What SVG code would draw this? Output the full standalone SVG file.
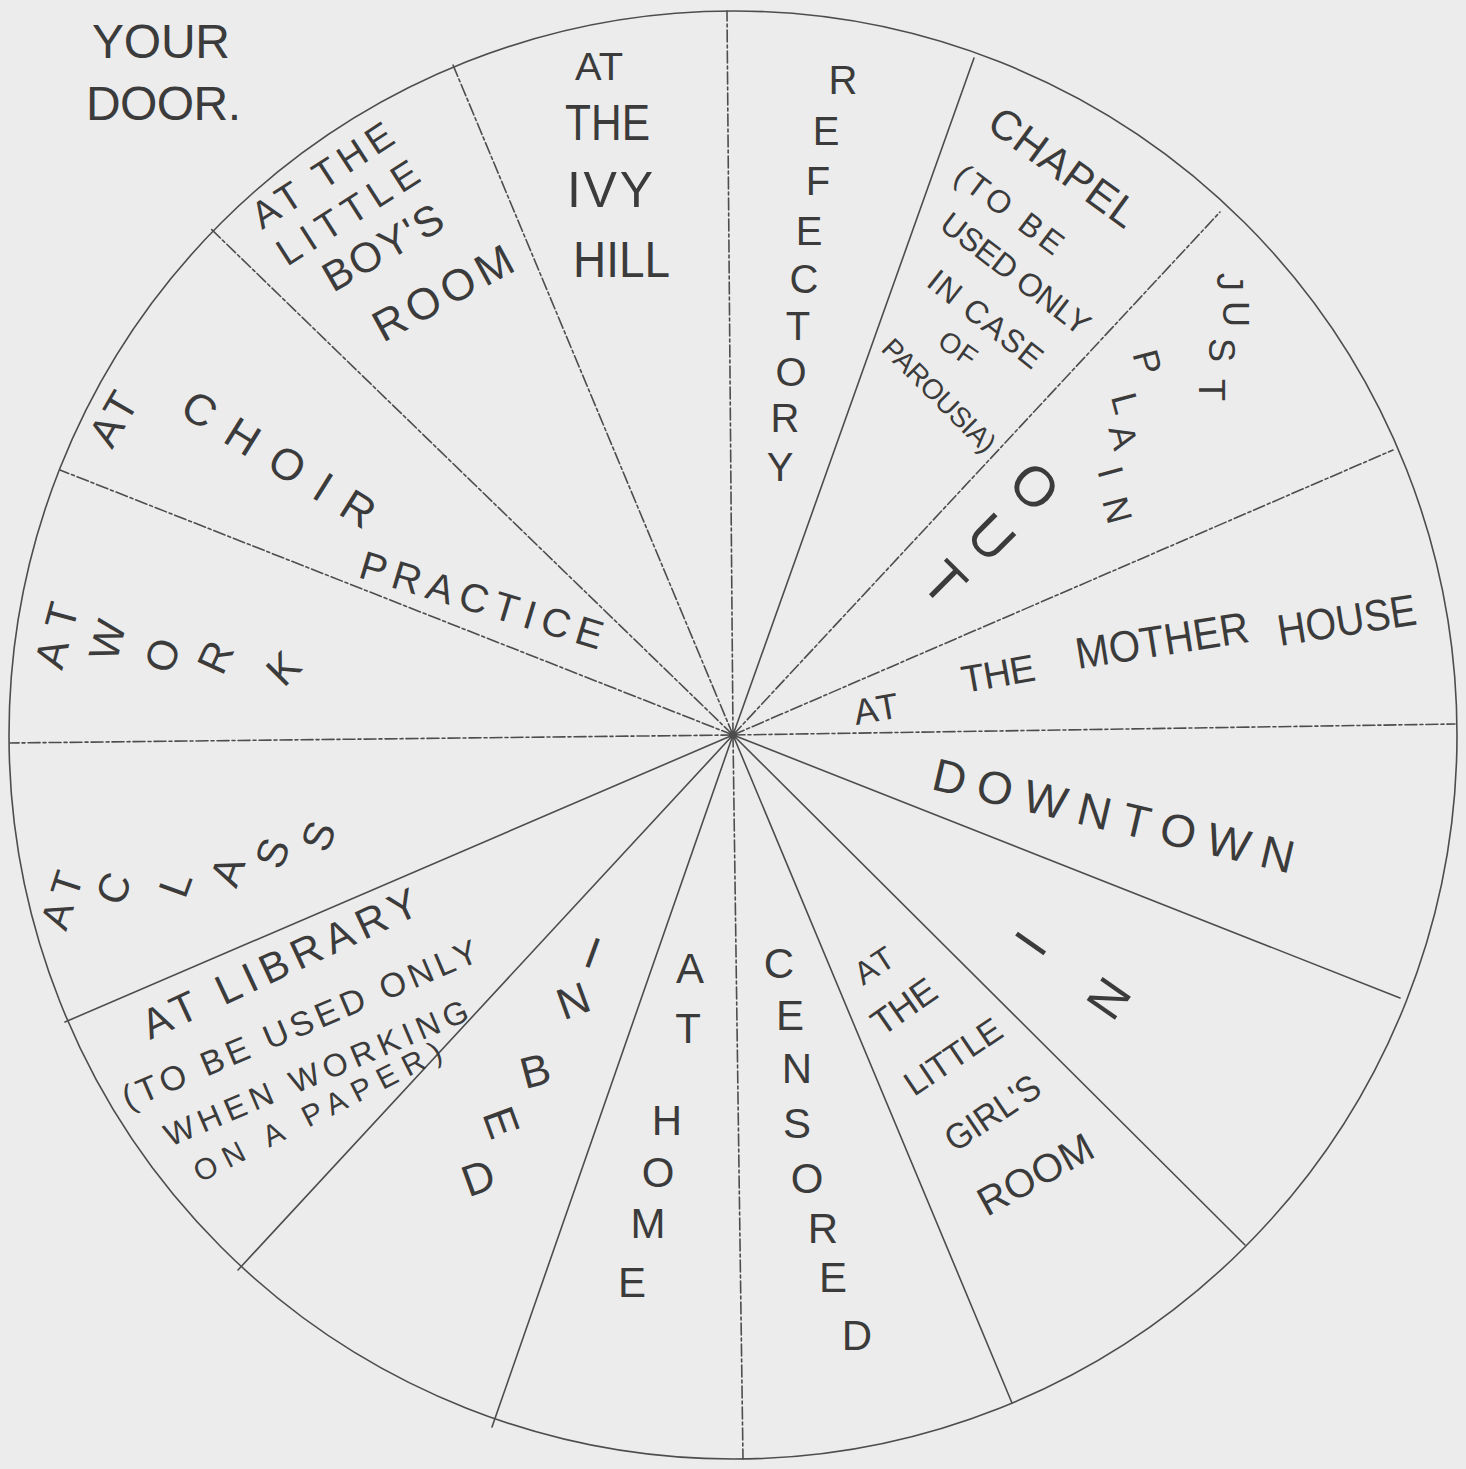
<svg xmlns="http://www.w3.org/2000/svg" width="1466" height="1469" viewBox="0 0 1466 1469">
<defs>
<style>
.t{font-family:"Liberation Sans",Arial,sans-serif;fill:#3b3b3b;}
.c{text-anchor:middle;}
.sp{stroke:#4d4d4d;stroke-width:1.6;fill:none;stroke-linecap:round;}
.d{stroke-dasharray:12 3 3 3;}
</style>
</defs>
<rect x="0" y="0" width="1466" height="1469" fill="#ececec"/>

<g id="connectors">
<circle class="sp" cx="733" cy="735" r="724"/>
<line class="sp d" x1="733" y1="735" x2="727" y2="11"/>
<line class="sp" x1="733" y1="735" x2="974" y2="58"/>
<line class="sp d" x1="733" y1="735" x2="1220" y2="212"/>
<line class="sp d" x1="733" y1="735" x2="1393" y2="450"/>
<line class="sp d" x1="733" y1="735" x2="1455" y2="724"/>
<line class="sp" x1="733" y1="735" x2="1400" y2="998"/>
<line class="sp" x1="733" y1="735" x2="1245" y2="1245"/>
<line class="sp" x1="733" y1="735" x2="1012" y2="1403"/>
<line class="sp d" x1="733" y1="735" x2="743" y2="1459"/>
<line class="sp" x1="733" y1="735" x2="492" y2="1427"/>
<line class="sp" x1="733" y1="735" x2="238" y2="1270"/>
<line class="sp" x1="733" y1="735" x2="65" y2="1022"/>
<line class="sp d" x1="733" y1="735" x2="10" y2="743"/>
<line class="sp d" x1="733" y1="735" x2="60" y2="470"/>
<line class="sp d" x1="733" y1="735" x2="210" y2="228"/>
<line class="sp d" x1="733" y1="735" x2="453" y2="65"/>
<circle cx="733" cy="735" r="4" fill="#4d4d4d"/>
</g>

<g id="n-your-door">
<text class="t" x="92" y="58" font-size="48" textLength="138" lengthAdjust="spacing">YOUR</text>
<text class="t" x="86" y="120" font-size="48" textLength="155" lengthAdjust="spacing">DOOR.</text>
</g>

<g id="n-boys-room">
<text class="t" font-size="38" transform="translate(262,230) rotate(-33)" textLength="161" lengthAdjust="spacing">AT THE</text>
<text class="t" font-size="38" transform="translate(287,267) rotate(-32.6)" textLength="161" lengthAdjust="spacing">LITTLE</text>
<text class="t" font-size="42" transform="translate(333,293) rotate(-30)" textLength="132" lengthAdjust="spacing">BOY'S</text>
<text class="t" font-size="44" transform="translate(383,343) rotate(-28.6)" textLength="153" lengthAdjust="spacing">ROOM</text>
</g>

<g id="n-ivy-hill">
<text class="t" x="575" y="80" font-size="38" textLength="48" lengthAdjust="spacingAndGlyphs">AT</text>
<text class="t" x="565" y="140" font-size="50" textLength="85" lengthAdjust="spacingAndGlyphs">THE</text>
<text class="t" x="567" y="207" font-size="50" textLength="86" lengthAdjust="spacing">IVY</text>
<text class="t" x="573" y="277" font-size="50" textLength="97" lengthAdjust="spacingAndGlyphs">HILL</text>
</g>

<g id="n-refectory" class="t c" font-size="40">
<text x="843" y="94">R</text>
<text x="826" y="145">E</text>
<text x="818" y="195">F</text>
<text x="809" y="245">E</text>
<text x="804" y="293">C</text>
<text x="798" y="340">T</text>
<text x="791" y="386">O</text>
<text x="785" y="432">R</text>
<text x="780" y="481">Y</text>
</g>

<g id="n-chapel">
<text class="t" font-size="42" transform="translate(985,128) rotate(36)" textLength="173" lengthAdjust="spacing">CHAPEL</text>
<text class="t" font-size="32" transform="translate(952,180) rotate(37)" textLength="127" lengthAdjust="spacing">(TO BE</text>
<text class="t" font-size="32" transform="translate(938,228) rotate(37.5)" textLength="179" lengthAdjust="spacing">USED ONLY</text>
<text class="t" font-size="32" transform="translate(925,285) rotate(38.5)" textLength="137" lengthAdjust="spacing">IN CASE</text>
<text class="t" font-size="28" transform="translate(936,345) rotate(35)" textLength="40" lengthAdjust="spacing">OF</text>
<text class="t" font-size="28" transform="translate(880,350) rotate(45)" textLength="148" lengthAdjust="spacing">PAROUSIA)</text>
</g>

<g id="n-just-plain-out" class="t c">
<g font-size="36">
<text transform="translate(1230,282) rotate(90)" y="13">J</text>
<text transform="translate(1236,314) rotate(90)" y="13">U</text>
<text transform="translate(1222,350) rotate(90)" y="13">S</text>
<text transform="translate(1212,390) rotate(90)" y="13">T</text>
<text transform="translate(1148,362) rotate(75)" y="13">P</text>
<text transform="translate(1126,403) rotate(75)" y="13">L</text>
<text transform="translate(1124,437) rotate(75)" y="13">A</text>
<text transform="translate(1111,472) rotate(75)" y="13">I</text>
<text transform="translate(1118,510) rotate(75)" y="13">N</text>
</g>
<g font-size="56">
<text transform="translate(1035,486) rotate(45)" y="20">O</text>
<text transform="translate(992,537) rotate(45)" y="20">U</text>
<text transform="translate(945,582) rotate(45)" y="20">T</text>
</g>
</g>

<g id="n-mother-house">
<text class="t" font-size="36" transform="translate(856,725) rotate(-10)" textLength="45" lengthAdjust="spacing">AT</text>
<text class="t" font-size="38" transform="translate(964,693) rotate(-10)" textLength="74" lengthAdjust="spacing">THE</text>
<text class="t" font-size="44" transform="translate(1078,669) rotate(-9)" textLength="175" lengthAdjust="spacingAndGlyphs">MOTHER</text>
<text class="t" font-size="44" transform="translate(1280,646) rotate(-9)" textLength="140" lengthAdjust="spacingAndGlyphs">HOUSE</text>
</g>

<g id="n-downtown">
<text class="t" font-size="46" transform="translate(930,789) rotate(13.2)" textLength="370" lengthAdjust="spacing">DOWNTOWN</text>
</g>

<g id="n-in" class="t c" font-size="50">
<text transform="translate(1030,943) rotate(-55)" y="18">I</text>
<text transform="translate(1108,998) rotate(-55)" y="18">N</text>
</g>

<g id="n-girls-room">
<text class="t" font-size="32" transform="translate(863,986) rotate(-33)" textLength="41" lengthAdjust="spacing">AT</text>
<text class="t" font-size="36" transform="translate(882,1037) rotate(-35)" textLength="71" lengthAdjust="spacing">THE</text>
<text class="t" font-size="34" transform="translate(914,1097) rotate(-34)" textLength="110" lengthAdjust="spacing">LITTLE</text>
<text class="t" font-size="36" transform="translate(955,1153) rotate(-34)" textLength="107" lengthAdjust="spacingAndGlyphs">GIRL'S</text>
<text class="t" font-size="40" transform="translate(987,1217) rotate(-29)" textLength="126" lengthAdjust="spacing">ROOM</text>
</g>

<g id="n-censored" class="t c" font-size="42">
<text x="779" y="978">C</text>
<text x="790" y="1030">E</text>
<text x="797" y="1083">N</text>
<text x="797" y="1138">S</text>
<text x="807" y="1193">O</text>
<text x="823" y="1243">R</text>
<text x="833" y="1292">E</text>
<text x="857" y="1350">D</text>
</g>

<g id="n-at-home" class="t c" font-size="42">
<text x="690" y="983">A</text>
<text x="688" y="1043">T</text>
<text x="667" y="1135">H</text>
<text x="658" y="1187">O</text>
<text x="648" y="1238">M</text>
<text x="632" y="1297">E</text>
</g>

<g id="n-in-bed" class="t c" font-size="44">
<text transform="translate(593,952) rotate(20)" y="16">I</text>
<text transform="translate(573,1000) rotate(-20)" y="16">N</text>
<text transform="translate(535,1070) rotate(-15)" y="16">B</text>
<text transform="translate(502,1122) rotate(70)" y="16">E</text>
<text transform="translate(478,1177) rotate(-20)" y="16">D</text>
</g>

<g id="n-library">
<text class="t" font-size="42" transform="translate(150,1040) rotate(-25)" textLength="300" lengthAdjust="spacing">AT LIBRARY</text>
<text class="t" font-size="34" transform="translate(128,1110) rotate(-23)" textLength="383" lengthAdjust="spacing">(TO BE USED ONLY</text>
<text class="t" font-size="32" transform="translate(170,1147) rotate(-23)" textLength="327" lengthAdjust="spacing">WHEN WORKING</text>
<text class="t" font-size="30" transform="translate(200,1183) rotate(-27)" textLength="274" lengthAdjust="spacing">ON A PAPER)</text>
</g>

<g id="n-class">
<text class="t" font-size="40" transform="translate(66,932) rotate(-72)" textLength="58" lengthAdjust="spacing">AT</text>
<g class="t c" font-size="42">
<text transform="translate(113,888) rotate(-70)" y="15">C</text>
<text transform="translate(175,884) rotate(-70)" y="15">L</text>
<text transform="translate(227,871) rotate(-70)" y="15">A</text>
<text transform="translate(272,853) rotate(-70)" y="15">S</text>
<text transform="translate(318,836) rotate(-70)" y="15">S</text>
</g>
</g>

<g id="n-work">
<text class="t" font-size="42" transform="translate(62,671) rotate(-75)" textLength="66" lengthAdjust="spacing">AT</text>
<g class="t c" font-size="42">
<text transform="translate(107,640) rotate(-75)" y="15">W</text>
<text transform="translate(162,655) rotate(-70)" y="15">O</text>
<text transform="translate(215,657) rotate(-65)" y="15">R</text>
<text transform="translate(283,668) rotate(-45)" y="15">K</text>
</g>
</g>

<g id="n-choir">
<text class="t" font-size="42" transform="translate(112,450) rotate(-60)" textLength="55" lengthAdjust="spacing">AT</text>
<text class="t" font-size="44" transform="translate(178,414) rotate(32)" textLength="219" lengthAdjust="spacing">CHOIR</text>
<text class="t" font-size="40" transform="translate(357,577) rotate(16.8)" textLength="252" lengthAdjust="spacing">PRACTICE</text>
</g>
</svg>
